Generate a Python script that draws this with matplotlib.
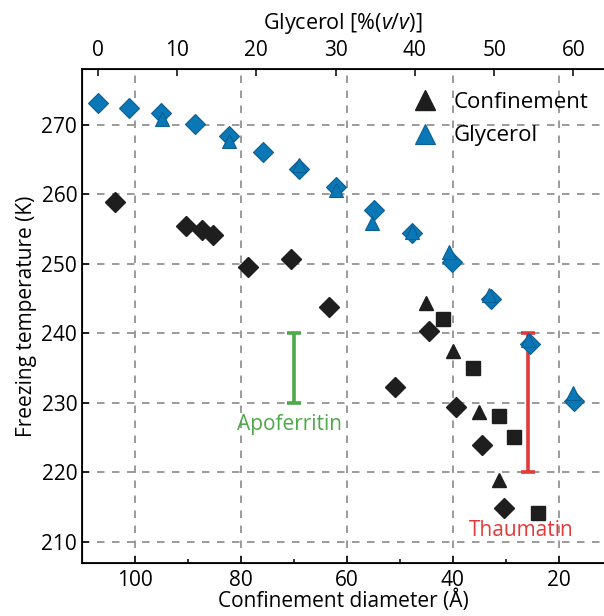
import numpy as np
import matplotlib
matplotlib.use('Agg')
import matplotlib.pyplot as plt

plt.rcParams['font.family'] = ['Open Sans', 'DejaVu Sans']
plt.rcParams['mathtext.fontset'] = 'custom'
plt.rcParams['mathtext.it'] = 'Open Sans:italic'
plt.rcParams['mathtext.rm'] = 'Open Sans'

# glycerol series (top axis, % v/v)
gly_diamond_x = [0, 4, 8, 12.3, 16.6, 20.9, 25.4, 30, 34.8, 39.6, 44.7, 49.6, 54.5, 60.1]
gly_diamond_y = [273.1, 272.5, 271.7, 270.1, 268.4, 266.1, 263.7, 261.0, 257.7, 254.4, 250.2, 245.0, 238.5, 230.3]
gly_tri_x = [8.1, 16.6, 25.4, 30, 34.6, 39.6, 44.3, 49.3, 54.3, 59.9]
gly_tri_y = [270.9, 267.7, 264.2, 260.6, 255.9, 254.6, 251.7, 245.5, 239.0, 231.4]

# confinement series (bottom axis, diameter in Angstrom)
conf_diamond_x = [103.8, 90.3, 87.3, 85.3, 78.6, 70.6, 63.4, 50.9, 44.4, 39.4, 34.5, 30.4]
conf_diamond_y = [258.85, 255.4, 254.9, 254.2, 249.6, 250.7, 243.8, 232.3, 240.3, 229.4, 224.0, 214.8]
conf_tri_x = [45.0, 40.0, 35.0, 31.2]
conf_tri_y = [244.4, 237.5, 228.7, 218.9]
conf_sq_x = [41.9, 36.1, 31.2, 28.4, 23.9]
conf_sq_y = [242.0, 235.05, 228.1, 225.1, 214.1]

# protein ranges
apo_x, apo_lo, apo_hi = 70, 230, 240
thau_x, thau_lo, thau_hi = 25.8, 220, 240

blue = '#0a78b6'
blue_edge = '#0b5f92'
black = '#1e1e1e'
green = '#4fa84a'
red = '#e23a3a'

fig = plt.figure(figsize=(6.04, 6.16), dpi=100)
ax = fig.add_axes([82/604, 1 - 562.7/616, 1 - 82/604, (562.7 - 69.3)/616])

grid_kw = dict(color='#8a8a8a', lw=1.2, ls=(0, (4.5, 4.5)), zorder=0)
for v in [100, 80, 60, 40, 20]:
    ax.axvline(v, **grid_kw)
for v in [210, 220, 230, 240, 250, 260, 270]:
    ax.axhline(v, **grid_kw)

ax.plot(conf_diamond_x, conf_diamond_y, 'D', color=black, ms=10.5, mec=black, zorder=3)
ax.plot(conf_tri_x, conf_tri_y, '^', color=black, ms=10.5, mec=black, zorder=3)
ax.plot(conf_sq_x, conf_sq_y, 's', color=black, ms=10, mec=black, zorder=3)

ax.errorbar([apo_x], [(apo_lo + apo_hi)/2], yerr=[(apo_hi - apo_lo)/2], fmt='none',
            ecolor=green, elinewidth=2.6, capsize=4.8, capthick=2.6, zorder=2)
ax.errorbar([thau_x], [(thau_lo + thau_hi)/2], yerr=[(thau_hi - thau_lo)/2], fmt='none',
            ecolor=red, elinewidth=2.6, capsize=4.8, capthick=2.6, zorder=2)
ax.text(70.8, 226.9, 'Apoferritin', color=green, fontsize=15, ha='center', va='center')
ax.text(27.1, 211.6, 'Thaumatin', color=red, fontsize=15, ha='center', va='center')

ax.set_xlim(110, 11.45)
ax.set_ylim(207, 278)
ax.set_xticks([100, 80, 60, 40, 20])
ax.set_xticks([90, 70, 50, 30], minor=True)
ax.set_yticks([210, 220, 230, 240, 250, 260, 270])
ax.tick_params(direction='in', length=5, width=1.1, labelsize=15, top=False, right=False)
ax.tick_params(axis='x', pad=5)
ax.tick_params(which='minor', direction='in', length=3, width=1.1)
ax.set_xlabel('Confinement diameter (Å)', fontsize=15, labelpad=-1)
ax.set_ylabel('Freezing temperature (K)', fontsize=15, labelpad=3)
ax.spines['right'].set_visible(False)
for s in ['left', 'bottom', 'top']:
    ax.spines[s].set_linewidth(1.3)

ax2 = ax.twiny()
ax2.plot(gly_diamond_x, gly_diamond_y, 'D', color=blue, ms=10.5, mec=blue_edge, mew=0.8, zorder=3)
ax2.plot(gly_tri_x, gly_tri_y, '^', color=blue, ms=10.5, mec=blue_edge, mew=0.8, zorder=4)
ax2.set_xlim(-1.97, 63.85)
ax2.set_xticks([0, 10, 20, 30, 40, 50, 60])
ax2.tick_params(direction='in', length=5, width=1.1, labelsize=15, pad=6)
ax2.set_xlabel('Glycerol [%($\\it{v}$/$\\it{v}$)]', fontsize=15.5, labelpad=8)
ax2.spines['right'].set_visible(False)

# legend
h1, = ax.plot([], [], '^', color=black, ms=15, mec=black)
h2, = ax.plot([], [], '^', color=blue, ms=15, mec=blue_edge, mew=0.8)
ax.legend([h1, h2], ['Confinement', 'Glycerol'], loc='upper right', frameon=False,
          fontsize=16, handletextpad=0.3, borderaxespad=0.3, bbox_to_anchor=(1.0, 0.985),
          labelspacing=0.55)

fig.savefig('out.png', dpi=100)
